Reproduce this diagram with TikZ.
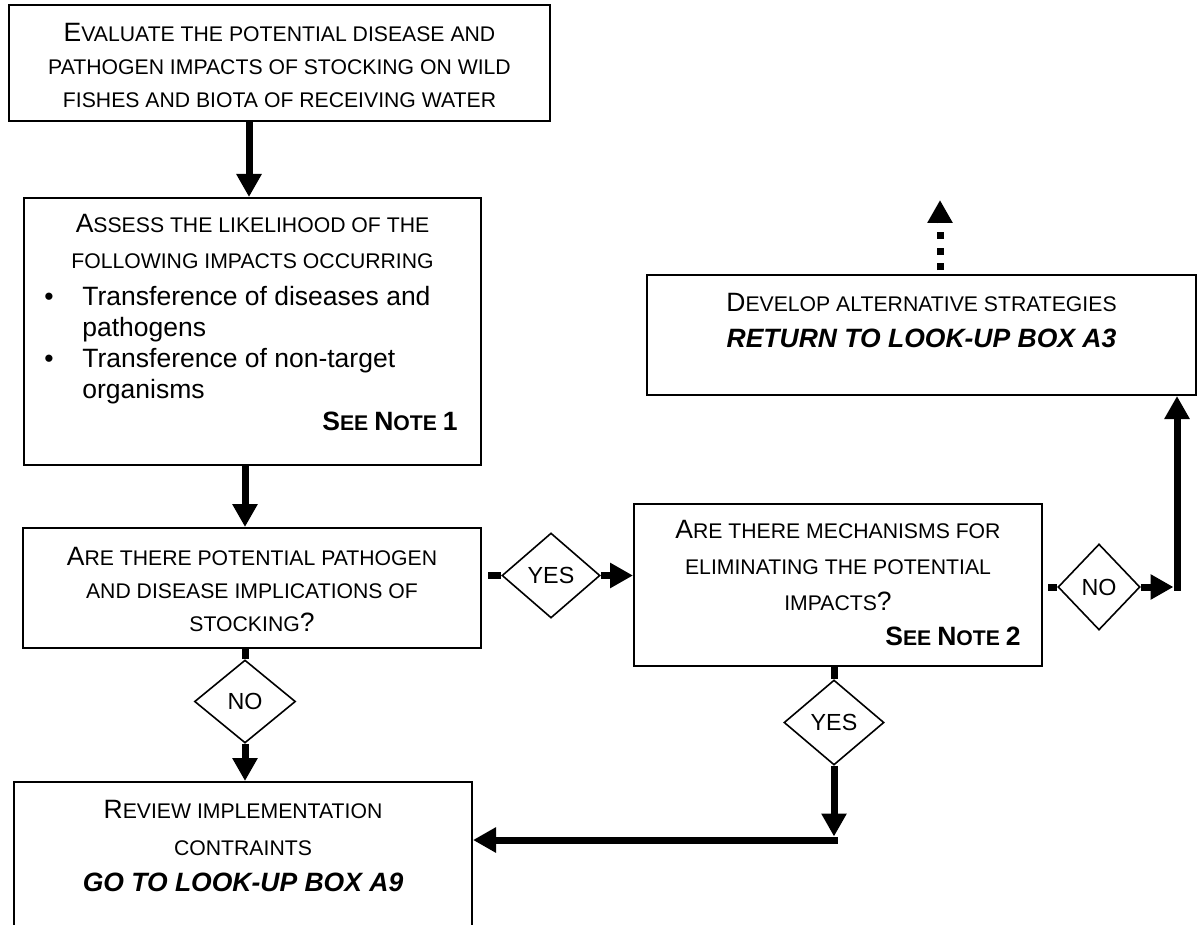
\documentclass[tikz,border=0pt]{standalone}
\usepackage{fontspec}
\setmainfont{Liberation Sans}
\usetikzlibrary{arrows.meta,calc,shapes.geometric}
\newcommand\Bg{\fontsize{13.25pt}{16pt}\selectfont}
\newcommand\Sm{\fontsize{10.6pt}{13pt}\selectfont}
\newcommand\Dm{\fontsize{11.65pt}{14pt}\selectfont}
\tikzset{
  box/.style={draw, line width=1pt, rectangle, inner sep=0pt},
  txt/.style={anchor=base, inner sep=0pt, font=\Sm},
  btxt/.style={anchor=base west, inner sep=0pt, font=\Bg},
  dia/.style={draw, line width=0.8pt, diamond, inner sep=0pt, font=\Dm, fill=white},
  conn/.style={line width=3.5pt},
  arr/.style={line width=3.5pt, -{Triangle[length=11.5pt,width=12pt]}},
}
\begin{document}
\begin{tikzpicture}[x=0.5pt,y=-0.5pt]
\fill[white] (0,0) rectangle (1198,925);
\useasboundingbox (0,0) rectangle (1198,925);

% boxes
\node[box, minimum width=270.5pt, minimum height=58pt] (b1) at (279.5,63) {};
\node[box, minimum width=228.5pt, minimum height=133.5pt] (b2) at (252.5,331.5) {};
\node[box, minimum width=229pt, minimum height=60pt] (b3) at (252,588) {};
\node[box, minimum width=204pt, minimum height=81pt] (b4) at (838,585) {};
\node[box, minimum width=274.5pt, minimum height=60pt] (b5) at (921.5,335) {};
\node[box, minimum width=229pt, minimum height=109pt] (b6) at (243,891) {};

% box texts
\node[txt] (t1a) at (279.5,42) {{\Bg E}VALUATE THE POTENTIAL DISEASE AND};
\node[txt] (t1b) at (279.5,75) {PATHOGEN IMPACTS OF STOCKING ON WILD};
\node[txt] (t1c) at (279.5,108) {FISHES AND BIOTA OF RECEIVING WATER};

\node[txt] (t2a) at (252.5,233) {{\Bg A}SSESS THE LIKELIHOOD OF THE};
\node[txt] (t2b) at (252.5,268) {FOLLOWING IMPACTS OCCURRING};
\node[txt, font=\Bg] (bul1) at (49,305) {•};
\node[btxt] (t2c) at (82,305) {Transference of diseases and};
\node[btxt] (t2d) at (82,336) {pathogens};
\node[txt, font=\Bg] (bul2) at (49,367) {•};
\node[btxt] (t2e) at (82,367) {Transference of non-target};
\node[btxt] (t2f) at (82,398) {organisms};
\node[txt, anchor=base east, font=\Sm\bfseries] (n1) at (458,430) {{\Bg S}EE {\Bg N}OTE {\Bg 1}};

\node[txt] (t3a) at (252,565) {{\Bg A}RE THERE POTENTIAL PATHOGEN};
\node[txt] (t3b) at (252,598) {AND DISEASE IMPLICATIONS OF};
\node[txt] (t3c) at (252,631) {STOCKING{\Bg ?}};

\node[txt] (t4a) at (838,538) {{\Bg A}RE THERE MECHANISMS FOR};
\node[txt] (t4b) at (838,574) {ELIMINATING THE POTENTIAL};
\node[txt] (t4c) at (838,610) {IMPACTS{\Bg ?}};
\node[txt, anchor=base east, font=\Sm\bfseries] (n2) at (1021,645) {{\Bg S}EE {\Bg N}OTE {\Bg 2}};

\node[txt] (t5a) at (921.5,311) {{\Bg D}EVELOP ALTERNATIVE STRATEGIES};
\node[txt, font=\Bg\bfseries\itshape] (t5b) at (921.5,347) {RETURN TO LOOK-UP BOX A3};

\node[txt] (t6a) at (243,818) {{\Bg R}EVIEW IMPLEMENTATION};
\node[txt] (t6b) at (243,855) {CONTRAINTS};
\node[txt, font=\Bg\bfseries\itshape] (t6c) at (243,891) {GO TO LOOK-UP BOX A9};

% diamonds
\node[dia, minimum width=49pt, minimum height=42.5pt] (y1) at (551,575.5) {YES};
\node[dia, minimum width=41pt, minimum height=43pt] (nr) at (1099,587) {NO};
\node[dia, minimum width=50.5pt, minimum height=41.5pt] (nd) at (245,701.5) {NO};
\node[dia, minimum width=50pt, minimum height=42.5pt] (y2) at (834,722.5) {YES};

\coordinate (c1) at (1177,587);
\coordinate (c2) at (834,840);
\coordinate (up) at (940,200);

% connectors
\draw[arr] ([xshift=-1.75pt]b2.north |- b1.south) -- ([xshift=-1.75pt]b2.north);
\draw[arr] (b2.south -| nd) -- (b3.north -| nd);
\draw[conn, shorten <=3pt] (y1.west -| b3.east) -- (y1.west);
\draw[arr] (y1.east) -- (y1.east -| b4.west);
\draw[conn, shorten <=2.5pt] (nr.west -| b4.east) -- (nr.west);
\draw[arr] (nr.east) -- ($(c1)+(-3.5,0)$);
\draw[arr] ($(c1)+(0,3.5)$) -- (c1 |- b5.south);
\draw[conn] (nd.north |- b3.south) -- (nd.north);
\draw[arr] (nd.south) -- (nd.south |- b6.north);
\draw[conn] (y2.north |- b4.south) -- (y2.north);
\draw[arr] (y2.south) -- ($(c2)+(0,-3.5)$);
\draw[arr] ($(c2)+(3.5,0)$) -- (c2 -| b6.east);
\draw[arr, dash pattern=on 3.5pt off 4.25pt, shorten <=2pt] (up |- b5.north) -- (up);
\end{tikzpicture}
\end{document}
